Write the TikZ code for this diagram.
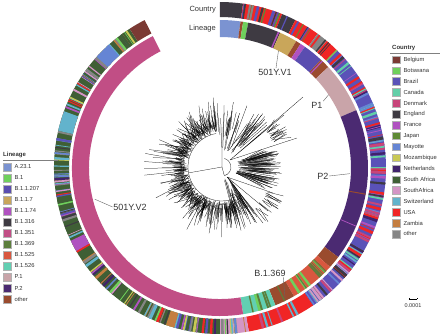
\documentclass[tikz,border=0pt]{standalone}
\usepackage{fontspec}
\setmainfont{Liberation Sans}
\usepackage{tikz}
\usetikzlibrary{positioning}

% lineage colours
\definecolor{lA}{HTML}{7B93D1}
\definecolor{lB}{HTML}{6FD05C}
\definecolor{lBa}{HTML}{5A4DB0}
\definecolor{lBb}{HTML}{C9A65A}
\definecolor{lBc}{HTML}{B052C0}
\definecolor{lBd}{HTML}{3E3A42}
\definecolor{lBe}{HTML}{C14E85}
\definecolor{lBf}{HTML}{5C7E3C}
\definecolor{lBg}{HTML}{D9573F}
\definecolor{lBh}{HTML}{62CFB2}
\definecolor{lP}{HTML}{C9A4A9}
\definecolor{lPb}{HTML}{4B2A72}
\definecolor{lOt}{HTML}{9A4B2E}
% country colours
\definecolor{cBel}{HTML}{7B3A34}
\definecolor{cBot}{HTML}{6FD05C}
\definecolor{cBra}{HTML}{5A52B8}
\definecolor{cCan}{HTML}{62CFA8}
\definecolor{cDen}{HTML}{C8457A}
\definecolor{cEng}{HTML}{3E3A42}
\definecolor{cFra}{HTML}{B052C0}
\definecolor{cJap}{HTML}{5E8A35}
\definecolor{cMay}{HTML}{6585D4}
\definecolor{cMoz}{HTML}{C9C955}
\definecolor{cNet}{HTML}{40226C}
\definecolor{cSaf}{HTML}{3F5F35}
\definecolor{cSab}{HTML}{D495C5}
\definecolor{cSwi}{HTML}{62B3CC}
\definecolor{cUsa}{HTML}{F02525}
\definecolor{cZam}{HTML}{C47E40}
\definecolor{cOth}{HTML}{858585}
\definecolor{txtgray}{HTML}{333333}

% annulus piece: r1 r2 t1 t2 colour (t clockwise from top)
\newcommand{\arcseg}[5]{%
  \fill[#5] ({90-(#3)}:#1) arc[start angle={90-(#3)}, end angle={90-(#4)}, radius=#1]
    -- ({90-(#4)}:#2) arc[start angle={90-(#4)}, end angle={90-(#3)}, radius=#2] -- cycle;}
% random thin stripes: r1 r2 t1 t2 n list
\newcommand{\randstripes}[6]{%
  \foreach \k in {1,...,#5}{
    \pgfmathsetmacro\ta{#3+rnd*(#4-#3)}
    \pgfmathsetmacro\tb{\ta+0.2+0.8*rnd}
    \pgfmathrandomitem{\cc}{#6}
    \arcseg{#1}{#2}{\ta}{\tb}{\cc}
  }}

\pgfmathdeclarerandomlist{topmix}{{cEng}{cOth}{cBot}{cJap}{cBra}{cUsa}}
\pgfmathdeclarerandomlist{bramix}{{cUsa}{cUsa}{cCan}{cEng}{cSwi}{cDen}{cFra}{cNet}{cMay}}
\pgfmathdeclarerandomlist{lowmix}{{cDen}{cEng}{cCan}{cUsa}{cSab}{cMay}{cBra}}
\pgfmathdeclarerandomlist{usamix}{{cSwi}{cBra}{cDen}}
\pgfmathdeclarerandomlist{safmix}{{cMoz}{cMay}{cSab}{cFra}{cNet}{cBot}{cUsa}{cSwi}{cZam}{cEng}{cOth}{cBra}{cSaf}{cSaf}}
\pgfmathdeclarerandomlist{linred}{{lB}{lBf}{lB}}
\pgfmathdeclarerandomlist{lintea}{{lB}{lB}{lBf}}

\tikzset{
  lab/.style={text=txtgray, font=\fontsize{9}{10}\selectfont, inner sep=0.5pt},
  ringlab/.style={text=txtgray, font=\fontsize{7.5}{8}\selectfont, inner sep=0pt, anchor=east},
  leader/.style={draw=gray!80!black, line width=0.4pt},
  legtitle/.style={text=txtgray, font=\bfseries\fontsize{6}{7}\selectfont, inner sep=0pt, anchor=west},
  legbox/.style={draw=gray!60, line width=0.2pt, minimum size=7.5pt, inner sep=0pt},
  legtext/.style={text=txtgray, font=\fontsize{5.8}{6}\selectfont, inner sep=0pt},
  branch/.style={line width=0.25pt, black},
}

\begin{document}
\begin{tikzpicture}[x=1pt, y=1pt]
\useasboundingbox (-220,-165) rectangle (220,168);
\pgfmathsetseed{4242}

% country ring
\foreach \ta/\tb/\cc in {0/8/cEng, 8/22/cUsa, 22/27/cEng, 27/36/cUsa, 36/40/cOth,
  40/45/cUsa, 45/128/cBra, 128/146/cBra, 146/170/cUsa, 170/180/cSab, 180/327/cSaf,
  327/333/cBel}
  {\arcseg{151}{166}{\ta}{\tb}{\cc}}
\randstripes{151}{166}{8}{45}{25}{topmix}
\randstripes{151}{166}{45}{128}{90}{bramix}
\randstripes{151}{166}{128}{146}{30}{lowmix}
\randstripes{151}{166}{146}{170}{6}{usamix}
\randstripes{151}{166}{170}{326}{170}{safmix}
\foreach \ta/\tb/\cc in {196/199/cZam, 240/244/cFra, 283/290/cSwi, 312/318/cMay}
  {\arcseg{151}{166}{\ta}{\tb}{\cc}}

% lineage ring
\foreach \ta/\tb/\cc in {0/8/lA, 8/9/lOt, 9/11/lB, 11/24/lBd, 23/23.6/lBc, 24/31/lBb,
  31/33/lOt, 33/35/lBc, 35/43/lBa, 43/47/lOt, 43.5/44/lBc, 47/67/lP, 67/127/lPb,
  100/100.4/lOt, 113/113.3/lBc, 127/132/lOt, 132/150/lBg, 150/158/lOt,
  153.8/154.3/lBf, 158/171/lBh, 171/333/lBe}
  {\arcseg{131}{148}{\ta}{\tb}{\cc}}
\randstripes{131}{148}{133}{149}{12}{linred}
\randstripes{131}{148}{159}{170}{8}{lintea}

% tree
\begin{scope}[shift={(2,1)}, branch]
\draw (100:34) arc[start angle=100, end angle=285, radius=34];
\draw (-75:9) arc[start angle=-75, end angle=75, radius=9];
\draw (0,0) -- (190:34) (0,0) -- (-75:9) (0,0) -- (90:40);
\foreach \i in {1,...,36}{
  \pgfmathsetmacro\a{100+rnd*180}
  \draw (\a:{36+rnd*6}) arc[start angle=\a, end angle={\a+3+rnd*6}, radius={36+rnd*6}];
}
\foreach \i in {1,...,420}{
  \pgfmathsetmacro\a{98+rnd*190}
  \pgfmathsetmacro\ra{34+rnd*8}
  \draw (\a:\ra) -- (\a:{\ra+5+rnd*rnd*32});
}
\foreach \i in {1,...,90}{
  \pgfmathsetmacro\a{-24+rnd*44}
  \pgfmathsetmacro\ra{14+rnd*18}
  \draw (\a:\ra) -- (\a:{40+rnd*20});
}
\foreach \i in {1,...,40}{
  \pgfmathsetmacro\a{46+rnd*50}
  \pgfmathsetmacro\ra{16+rnd*25}
  \draw (\a:\ra) -- (\a:{45+rnd*24});
}
\foreach \i in {1,...,32}{
  \pgfmathsetmacro\a{-80+rnd*24}
  \pgfmathsetmacro\ra{12+rnd*25}
  \draw (\a:\ra) -- (\a:{44+rnd*24});
}
\foreach \a in {170,176,181,186}
  \draw (\a:38) -- (\a:78);
% open clades
\draw (8,7) -- (81,70) (8,7) -- (75,29) (8,7) -- (62,52);
\foreach \i in {1,...,16}{
  \pgfmathsetmacro\a{26+rnd*14}
  \draw (\a:{55+rnd*5}) -- (\a:{64+rnd*14});
}
\draw (5,-10) -- (41,-56) (5,-10) -- (51,-26) (5,-10) -- (46,-44);
\foreach \i in {1,...,16}{
  \pgfmathsetmacro\a{-52+rnd*24}
  \pgfmathsetmacro\ra{50+rnd*6}
  \draw (\a:\ra) -- (\a:{\ra+4+rnd*16});
}
\end{scope}

% ring labels
\node[ringlab] (lbcountry) at (-4,158) {Country};
\node[ringlab] (lblineage) at (-4,139) {Lineage};

% clade labels and leaders
\node[lab] (v1) at (55,96) {501Y.V1};
\coordinate (v1end) at (63.5:131);
\draw[leader] ([xshift=1pt]v1.north) -- (v1end);
\node[lab] (pone) at (97,63) {P1};
\coordinate (poneend) at (34:131);
\draw[leader] (pone.north east) -- (poneend);
\node[lab] (ptwo) at (103,-8) {P2};
\coordinate (ptwoend) at (-2.5:130);
\draw[leader] (ptwo.east) -- (ptwoend);
\node[lab] (v2) at (-90,-39) {501Y.V2};
\coordinate (v2end) at (194:129);
\draw[leader] (v2.west) -- (v2end);
\node[lab] (bsix) at (50,-105) {B.1.369};
\coordinate (bsixend) at (-63.5:146);
\draw[leader] ([xshift=-3pt]bsix.south east) -- (bsixend);

% lineage legend
\node[legtitle] (lintitle) at (-217,13) {Lineage};
\draw[line width=0.3pt, gray] (-217,8) -- (-162,8);
\foreach \name/\col [count=\i] in {A.23.1/lA, B.1/lB, B.1.1.207/lBa, B.1.1.7/lBb,
  B.1.1.74/lBc, B.1.316/lBd, B.1.351/lBe, B.1.369/lBf, B.1.525/lBg, B.1.526/lBh,
  P.1/lP, P.2/lPb, other/lOt}{
  \node[legbox, fill=\col] (lin\i) at (-213,{1-11*(\i-1)}) {};
  \node[legtext, right=3.5pt of lin\i] (lintext\i) {\name};
}

% country legend
\node[legtitle] (coutitle) at (172,120) {Country};
\draw[line width=0.3pt, gray] (170,115) -- (220,115);
\foreach \name/\col [count=\i] in {Belgium/cBel, Botswana/cBot, Brazil/cBra,
  Canada/cCan, Denmark/cDen, England/cEng, France/cFra, Japan/cJap, Mayotte/cMay,
  Mozambique/cMoz, Netherlands/cNet, South Africa/cSaf, SouthAfrica/cSab,
  Switzerland/cSwi, USA/cUsa, Zambia/cZam, other/cOth}{
  \node[legbox, fill=\col] (cou\i) at (176,{108.5-10.9*(\i-1)}) {};
  \node[legtext, right=3.5pt of cou\i] (coutext\i) {\name};
}

% scale bar
\coordinate (sbl) at (189,-131);
\coordinate (sbr) at (197,-131);
\draw[line width=0.3pt] (sbl) -- (sbr) (sbl) -- ++(0,1.5) (sbr) -- ++(0,1.5);
\node[legtext, font=\fontsize{5.5}{6}\selectfont, below=4pt of sbl, xshift=4pt] (sbtext) {0.0001};
\end{tikzpicture}
\end{document}
